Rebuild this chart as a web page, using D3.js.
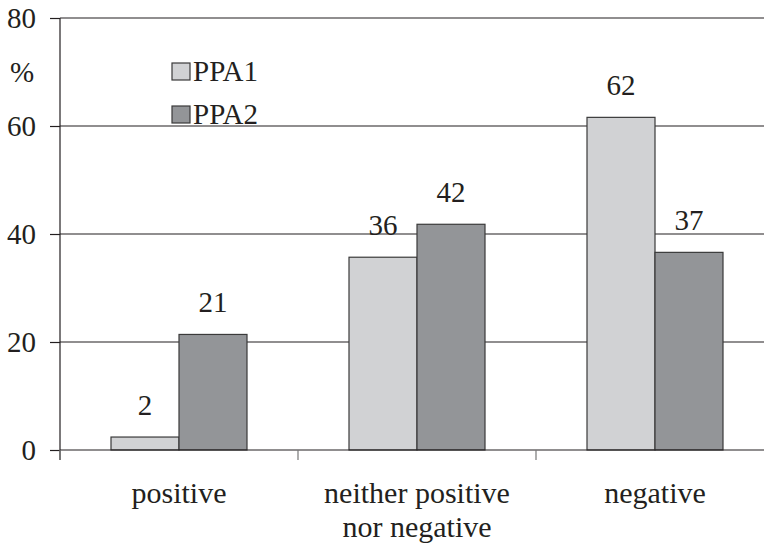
<!DOCTYPE html>
<html><head><meta charset="utf-8"><script src="https://cdn.jsdelivr.net/npm/d3@7"></script></head>
<body style="margin:0">
<svg id="chart" width="764" height="549"></svg>
<script>
const categories = ["positive", "neither positive\nnor negative", "negative"];
const seriesNames = ["PPA1", "PPA2"];
const ppa1 = [2.4, 35.7, 61.6];
const ppa2 = [21.4, 41.8, 36.6];
const yTicks = [0, 20, 40, 60, 80];
const colors = ["#d1d2d4", "#939598"];

const FONT = "'Liberation Serif', Tinos, FreeSerif, 'Times New Roman', Times, monospace";
const INK = "#231f20";
const svg = d3.select("#chart");
const W = 764;
const mLeft = 60, mRight = 774, mTop = 18, mBottom = 450;
const fs = 29;

function serif(sel, size) {
  return sel.attr("font-size", size).attr("font-family", FONT)
    .style("font-family", FONT).style("font-size", size + "px").attr("fill", INK);
}

const x = d3.scaleBand().domain(categories).range([mLeft, mRight]).paddingInner(0).paddingOuter(0);
const xs = d3.scaleBand().domain(seriesNames).range([0, x.bandwidth()]).paddingInner(0).paddingOuter(0.75);
const y = d3.scaleLinear().domain([0, 80]).range([mBottom, mTop]);

svg.append("g").selectAll("line").data(yTicks.filter(d => d > 0)).join("line")
  .attr("x1", mLeft).attr("x2", W).attr("y1", d => y(d)).attr("y2", d => y(d))
  .attr("stroke", INK).attr("stroke-width", 1.2);

const yAxis = d3.axisLeft(y).tickValues(yTicks).tickSize(10).tickPadding(14).tickSizeOuter(0);
const gy = svg.append("g").attr("transform", `translate(${mLeft},0)`).call(yAxis);
gy.attr("font-family", FONT).attr("font-size", fs);
gy.select(".domain").remove();
gy.selectAll(".tick line").attr("stroke", INK).attr("stroke-width", 1.2);
serif(gy.selectAll(".tick text"), fs).attr("dy", "0.34em").attr("x", -24);
svg.append("line").attr("x1", mLeft).attr("x2", mLeft).attr("y1", mTop).attr("y2", mBottom + 10)
  .attr("stroke", INK).attr("stroke-width", 1.2);

serif(svg.append("text"), fs).attr("x", 22).attr("y", 72).attr("dy", "0.34em")
  .attr("text-anchor", "middle").text("%");

const rows = categories.map((c, i) => ({cat: c, vals: [ppa1[i], ppa2[i]]}));
const groups = svg.append("g").selectAll("g").data(rows).join("g")
  .attr("transform", d => `translate(${x(d.cat)},0)`);
groups.selectAll("rect").data(d => d.vals.map((v, j) => ({v, s: seriesNames[j], j}))).join("rect")
  .attr("x", d => xs(d.s)).attr("width", xs.bandwidth())
  .attr("y", d => y(d.v)).attr("height", d => y(0) - y(d.v))
  .attr("fill", d => colors[d.j]).attr("stroke", "#3a3a3a").attr("stroke-width", 1.2);
serif(groups.selectAll("text.val").data(d => d.vals.map((v, j) => ({v, s: seriesNames[j], j}))).join("text"), fs)
  .attr("class", "val")
  .attr("x", d => xs(d.s) + xs.bandwidth() / 2).attr("y", d => y(d.v) - 22)
  .attr("text-anchor", "middle").text(d => Math.round(d.v));

svg.append("line").attr("x1", mLeft).attr("x2", W).attr("y1", mBottom).attr("y2", mBottom)
  .attr("stroke", INK).attr("stroke-width", 1.2);
svg.append("g").selectAll("line").data(categories.map(c => x(c))).join("line")
  .attr("x1", d => d).attr("x2", d => d).attr("y1", mBottom).attr("y2", mBottom + 10)
  .attr("stroke", "#777").attr("stroke-width", 1.2);

const cl = serif(svg.append("g").selectAll("text").data(categories).join("text"), 30)
  .attr("x", d => x(d) + x.bandwidth() / 2).attr("y", 503).attr("text-anchor", "middle");
cl.selectAll("tspan").data(d => d.split("\n")).join("tspan")
  .attr("x", function() { return d3.select(this.parentNode).attr("x"); })
  .attr("dy", (d, i) => i === 0 ? 0 : 34).text(d => d);

const lg = svg.append("g").selectAll("g").data(seriesNames).join("g")
  .attr("transform", (d, i) => `translate(172,${63 + i * 43})`);
lg.append("rect").attr("width", 18).attr("height", 17)
  .attr("fill", (d, i) => colors[i]).attr("stroke", "#3a3a3a").attr("stroke-width", 1.2);
serif(lg.append("text"), fs).attr("x", 21).attr("y", 18).text(d => d);
</script>
</body>
</html>
